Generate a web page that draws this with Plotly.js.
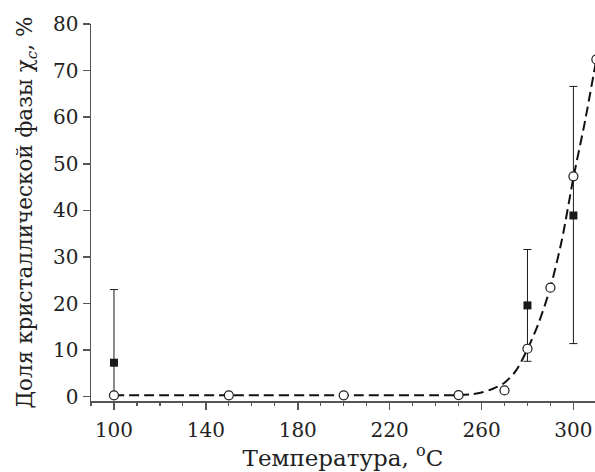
<!DOCTYPE html>
<html>
<head>
<meta charset="utf-8">
<script src="https://cdn.plot.ly/plotly-3.0.1.min.js"></script>
<style>
html,body{margin:0;padding:0;background:#fff;}
#chart{width:595px;height:472px;}
</style>
</head>
<body>
<div id="chart"></div>
<script>
// Measured points (open circles)
const circleT = [100, 150, 200, 250, 270, 280, 290, 300, 310];
const circleX = [0.3, 0.3, 0.3, 0.35, 1.35, 10.3, 23.4, 47.3, 72.4];

// Points with error bars (filled squares)
const squareT = [100, 280, 300];
const squareX = [7.3, 19.6, 38.9];
const squareErrPlus = [15.7, 12.0, 27.7];
const squareErrMinus = [7.3, 12.0, 27.5];

// Dashed fit curve
const fitT = [100, 150, 200, 250, 255, 260, 265, 270, 275, 280, 285, 290, 295, 300, 305, 310];
const fitX = [0.3, 0.3, 0.3, 0.35, 0.5, 0.9, 1.7, 3.0, 5.6, 10.2, 16.0, 23.5, 33.7, 47.0, 59.0, 72.5];

const xTickVals = [100, 140, 180, 220, 260, 300];
const yTickVals = [0, 10, 20, 30, 40, 50, 60, 70, 80];

const FONT = "DejaVu Serif";
const AX = '#555555';

const traces = [
  {
    x: squareT, y: squareX, type: 'scatter', mode: 'markers',
    marker: {symbol: 'square', size: 8, color: '#1a1a1a'},
    error_y: {type: 'data', symmetric: false, array: squareErrPlus, arrayminus: squareErrMinus,
              color: '#1a1a1a', thickness: 1, width: 4},
    showlegend: false, hoverinfo: 'skip'
  },
  {
    x: fitT, y: fitX, type: 'scatter', mode: 'lines',
    line: {color: '#111', width: 2, dash: '10px,5px', shape: 'spline', smoothing: 0.8},
    showlegend: false, hoverinfo: 'skip'
  },
  {
    x: circleT, y: circleX, type: 'scatter', mode: 'markers',
    marker: {symbol: 'circle', size: 9, color: '#ffffff', line: {color: '#1a1a1a', width: 1.2}},
    showlegend: false, hoverinfo: 'skip'
  }
];

const layout = {
  width: 595, height: 472,
  margin: {l: 91, r: 0, t: 24, b: 71},
  paper_bgcolor: '#fff', plot_bgcolor: '#fff',
  font: {family: FONT, color: '#222', size: 20},
  xaxis: {
    range: [90, 309.4],
    tickvals: xTickVals, ticktext: xTickVals.map(String),
    showgrid: false, zeroline: false,
    showline: true, linecolor: AX, linewidth: 1.5,
    ticks: 'outside', ticklen: 7, tickwidth: 1.5, tickcolor: AX,
    minor: {dtick: 10, tick0: 100, ticks: 'outside', ticklen: 3, tickwidth: 1.2, tickcolor: AX, showgrid: false},
    tickfont: {family: FONT, size: 20, color: '#222'},
    ticklabelstandoff: 3,
    title: {text: 'Температура, <sup>o</sup>C', font: {family: FONT, size: 23, color: '#222'}, standoff: 7}
  },
  yaxis: {
    range: [-0.92, 80],
    tickvals: yTickVals, ticktext: yTickVals.map(String),
    showgrid: false, zeroline: false,
    showline: true, linecolor: AX, linewidth: 1.5,
    ticks: 'outside', ticklen: 7, tickwidth: 1.5, tickcolor: AX,
    tickfont: {family: FONT, size: 20, color: '#222'},
    title: {text: 'Доля кристаллической фазы χ<sub><i>c</i></sub>, %', font: {family: FONT, size: 21.5, color: '#222'}, standoff: 14}
  }
};

Plotly.newPlot('chart', traces, layout, {displayModeBar: false, staticPlot: true});
</script>
</body>
</html>
